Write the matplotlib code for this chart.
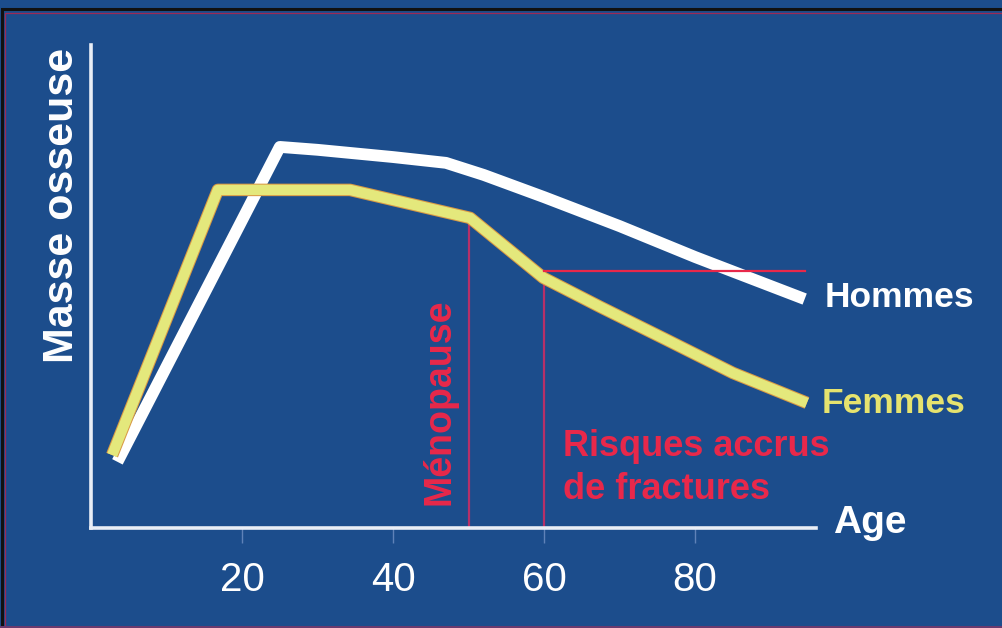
import matplotlib.pyplot as plt
import matplotlib.patheffects as pe
from matplotlib.patches import Rectangle

# Bone mass over life (arbitrary units 0-100)
men_age = [3.5, 25, 30, 40, 47, 52, 60, 70, 80, 94.5]
men_mass = [13.7, 78.9, 78.3, 76.8, 75.6, 73.1, 68.5, 62.5, 56.1, 47.4]
women_age = [2.8, 16.8, 34.3, 50.2, 59.9, 67.4, 76.3, 85, 94.8]
women_mass = [15.1, 70, 70, 64.2, 51.8, 45.8, 38.9, 32.1, 25.9]
menopause_age = 50
risk_age = 60
risk_level = 53.2
risk_end_age = 94.6
xticks = [20, 40, 60, 80]

bg = "#1c4d8c"
red = "#e8284a"
yellow = "#e4e87c"

plt.rcParams["font.family"] = ["Liberation Sans", "DejaVu Sans"]

fig = plt.figure(figsize=(10.03, 6.28), dpi=100)
fig.patch.set_facecolor(bg)

# frame on top / left like the scanned slide
fig.patches.append(Rectangle((0.002, -0.01), 1.1, 1.0 - 0.004, transform=fig.transFigure,
                             fill=False, edgecolor="#111111", lw=2.2))
fig.patches.append(Rectangle((0.0045, -0.01), 1.1, 1.0 - 0.0105, transform=fig.transFigure,
                             fill=False, edgecolor="#9c2a55", lw=0.9))
fig.patches.append(Rectangle((0, 0), 1, 0.003, transform=fig.transFigure,
                             facecolor="#6a3a6e", edgecolor="none"))

ax = fig.add_axes([91 / 1003, 1 - 528 / 628, 725 / 1003, 483 / 628])
ax.set_facecolor(bg)
ax.set_xlim(0, 96)
ax.set_ylim(0, 100)

for s in ["top", "right"]:
    ax.spines[s].set_visible(False)
for s in ["left", "bottom"]:
    ax.spines[s].set_color("#e9eef6")
    ax.spines[s].set_linewidth(2.6)

ax.set_yticks([])
ax.set_xticks(xticks)
ax.set_xticklabels([str(t) for t in xticks])
ax.tick_params(axis="x", direction="out", length=11, width=1, color="#5f82b8",
               pad=13, labelsize=29, labelcolor="white")

# reference lines
ax.plot([menopause_age, menopause_age], [0, 64.2], color="#b63068", lw=1.6, zorder=2)
ax.plot([risk_age, risk_age], [0, risk_level], color="#b63068", lw=1.6, zorder=2)
ax.plot([risk_age, risk_end_age], [risk_level, risk_level], color=red, lw=1.6, zorder=4)

# curves
ax.plot(men_age, men_mass, color="white", lw=8.5, solid_joinstyle="round",
        solid_capstyle="butt", zorder=3)
ax.plot(women_age, women_mass, color=yellow, lw=7.5, solid_joinstyle="round",
        solid_capstyle="butt", zorder=3,
        path_effects=[pe.Stroke(linewidth=9, foreground="#d99a45"), pe.Normal()])

# labels
ax.text(97.2, 47.8, "Hommes", color="white", fontsize=25.5, fontweight="bold",
        va="center", ha="left", clip_on=False)
ax.text(96.8, 25.7, "Femmes", color="#e6e36e", fontsize=25.5, fontweight="bold",
        va="center", ha="left", clip_on=False)
ax.text(98.3, 1.0, "Age", color="white", fontsize=28, fontweight="bold",
        va="center", ha="left", clip_on=False)
ax.text(46.2, 26.1, "Ménopause", color=red, fontsize=27, fontweight="bold",
        rotation=90, va="center", ha="center")
ax.text(62.5, 16.8, "Risques accrus", color=red, fontsize=26, fontweight="bold",
        va="center", ha="left")
ax.text(62.5, 7.9, "de fractures", color=red, fontsize=26, fontweight="bold",
        va="center", ha="left")

fig.text(62 / 1003, 1 - 205 / 628, "Masse osseuse", color="white", fontsize=31,
         fontweight="bold", rotation=90, va="center", ha="center")

fig.savefig("out.png", dpi=100, facecolor=bg)
